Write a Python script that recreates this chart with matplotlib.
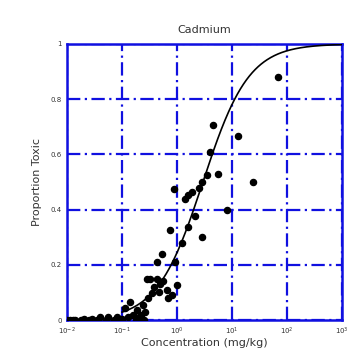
import numpy as np
import matplotlib.pyplot as plt
from matplotlib.ticker import FixedLocator, FixedFormatter

# Observed toxicity data (log10 concentration, proportion toxic)
log_conc = [-2.0, -1.85, -1.7, -1.55, -1.4, -1.25, -1.1, -0.95, -0.85, -0.8,
            -0.73, -0.7, -0.62, -0.6, -0.55, -0.53, -0.45, -0.36, -0.36, -0.31,
            -0.27, -0.18, -0.16, -0.13, -0.04, -0.055, 0.0, 0.09, 0.145, 0.2,
            0.2, 0.27, 0.33, 0.40, 0.45, 0.45, 0.545, 0.6, 0.655, 0.75,
            0.91, 1.11, 1.38, 1.84, -1.9, -1.6, -1.3, -1.0, -0.9, -0.75, -0.65,
            -1.95, -1.75, -1.45, -1.15, -1.05, -0.68, -0.58, -0.5, -0.42, -0.25,
            -0.1, -0.33]
prop_toxic = [0.0, 0.0, 0.005, 0.005, 0.01, 0.01, 0.01, 0.043, 0.065, 0.02,
              0.036, 0.01, 0.055, 0.0, 0.15, 0.08, 0.097, 0.21, 0.15, 0.13,
              0.24, 0.11, 0.08, 0.326, 0.21, 0.475, 0.127, 0.28, 0.44, 0.453,
              0.337, 0.465, 0.377, 0.48, 0.50, 0.30, 0.525, 0.61, 0.707, 0.53,
              0.40, 0.667, 0.50, 0.88, 0.0, 0.0, 0.0, 0.005, 0.01, 0.0, 0.02,
              0.0, 0.0, 0.0, 0.0, 0.0, 0.0, 0.03, 0.15, 0.12, 0.14,
              0.09, 0.1]

# Logistic model fit parameters (log10 scale)
x50 = 0.47
slope = 2.4

x_ticks = [1e-2, 1e-1, 1e0, 1e1, 1e2, 1e3]
x_tick_labels = ['$10^{-2}$', '$10^{-1}$', '$10^{0}$', '$10^{1}$', '$10^{2}$', '$10^{3}$']
y_ticks = [0, 0.2, 0.4, 0.6, 0.8, 1]
y_tick_labels = ['0', '0.2', '0.4', '0.6', '0.8', '1']

fig = plt.figure(figsize=(3.53, 3.60), dpi=100)
ax = fig.add_axes([0.19, 0.111, 0.779, 0.767])

conc = 10 ** np.array(log_conc)
ax.plot(conc, prop_toxic, 'o', color='black', markersize=4.4, zorder=3)

lx = np.linspace(-1.0, 3.0, 300)
ax.plot(10 ** lx, 1 / (1 + np.exp(-slope * (lx - x50))), color='black',
        linewidth=1.2, zorder=4)

ax.set_xscale('log')
ax.set_xlim(1e-2, 1e3)
ax.set_ylim(0, 1)
ax.xaxis.set_major_locator(FixedLocator(x_ticks))
ax.xaxis.set_major_formatter(FixedFormatter(x_tick_labels))
ax.xaxis.set_minor_locator(FixedLocator([]))
ax.set_yticks(y_ticks)
ax.set_yticklabels(y_tick_labels)
ax.tick_params(length=0, labelsize=5, pad=4, colors='#333333')

ax.grid(True, color='#1010e0', linestyle=(0, (6, 2, 1, 2)), linewidth=1.6)
for s in ax.spines.values():
    s.set_color('#1010e0')
    s.set_linewidth(1.8)

ax.set_title('Cadmium', fontsize=8, pad=8, color='#333333')
ax.set_xlabel('Concentration (mg/kg)', fontsize=8, labelpad=1, color='#333333')
ax.set_ylabel('Proportion Toxic', fontsize=8, labelpad=6, color='#333333')

fig.savefig('out.png', dpi=100)
